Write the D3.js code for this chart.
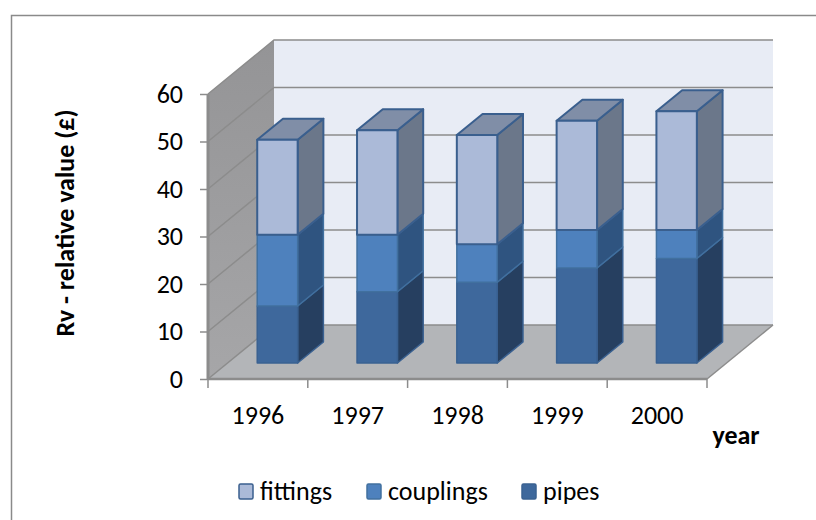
<!DOCTYPE html>
<html><head><meta charset="utf-8">
<script src="https://cdn.jsdelivr.net/npm/d3@7/dist/d3.min.js"></script>
<style>html,body{margin:0;padding:0;background:#fff}svg{display:block}text{font-family:Carlito,Calibri,Lato,"Open Sans",sans-serif;fill:#000}</style>
</head><body><svg id="c" width="816" height="520"></svg>
<script>
const years = ["1996","1997","1998","1999","2000"];
const seriesNames = ["pipes","couplings","fittings"];
const pipes = [12,15,17,20,22];
const couplings = [15,12,8,8,6];
const fittings = [20,22,23,23,25];
const yTicks = [0,10,20,30,40,50,60];
const legendOrder = ["fittings","couplings","pipes"];
const seriesColors = {
  pipes:{front:"#3e689c",side:"#263f60",top:"#2f4f78",stroke:"#3a6191"},
  couplings:{front:"#4e81bd",side:"#2f5480",top:"#3b6290",stroke:"#41709f"},
  fittings:{front:"#abbad8",side:"#6b778a",top:"#808ea7",stroke:"#3a5f8e"}
};
const svg = d3.select("#c");
const defs = svg.append("defs");
const grad = defs.append("linearGradient").attr("id","wall").attr("x1",0).attr("y1",0).attr("x2",0).attr("y2",1);
grad.append("stop").attr("offset","0%").attr("stop-color","#949496");
grad.append("stop").attr("offset","100%").attr("stop-color","#a6a6a8");
svg.append("path").attr("d","M11.5,520V15.5H816").attr("fill","none").attr("stroke","#8a8a8a").attr("stroke-width",1.5);

const x = d3.scaleBand().domain(years).range([208,707]).paddingInner(0.595).paddingOuter(0.2975);
const xEdge = d3.scaleLinear().domain([0,5]).range([208,707]);
const y = d3.scaleLinear().domain([0,60]).range([379,94]);
const dx = 66, dy = -54;
const P = (px,py,d)=>[px+dx*d,py+dy*d];
const poly = pts => pts.map(p=>p.join(",")).join(" ");

const g = svg.append("g");
g.append("polygon").attr("points",poly([P(208,y(0),1),P(707,y(0),1),P(707,y(60),1),P(208,y(60),1)])).attr("fill","#e8ecf5");
g.append("polygon").attr("points",poly([P(208,y(0),0),P(208,y(0),1),P(208,y(60),1),P(208,y(60),0)])).attr("fill","url(#wall)");
g.append("polygon").attr("points",poly([P(208,y(0),0),P(707,y(0),0),P(707,y(0),1),P(208,y(0),1)])).attr("fill","#b3b5b8");
yTicks.forEach(t=>{
  const a=P(208,y(t),0),b=P(208,y(t),1),c=P(707,y(t),1);
  g.append("polyline").attr("points",poly([a,b,c])).attr("fill","none").attr("stroke","#8c8c8c").attr("stroke-width",1.5);
});
const a0=P(707,y(0),0),a1=P(707,y(0),1);
g.append("line").attr("x1",a0[0]).attr("y1",a0[1]).attr("x2",a1[0]).attr("y2",a1[1]).attr("stroke","#8c8c8c").attr("stroke-width",1.5);
g.append("line").attr("x1",208).attr("y1",y(0)).attr("x2",208).attr("y2",y(60)).attr("stroke","#8c8c8c").attr("stroke-width",3);
g.append("line").attr("x1",208).attr("y1",y(0)).attr("x2",707).attr("y2",y(0)).attr("stroke","#8c8c8c").attr("stroke-width",2.5);

const yAxis = d3.axisLeft(y).tickValues(yTicks).tickSize(8).tickPadding(17).tickFormat(d3.format("d"));
const ya = svg.append("g").attr("transform","translate(208,0)").call(yAxis);
ya.select(".domain").remove();
ya.selectAll("line").attr("stroke","#8c8c8c").attr("stroke-width",1.5);
ya.selectAll("text").attr("font-size",26).style("font-family",'Carlito,Calibri,Lato,"Open Sans",sans-serif');
d3.range(6).forEach(i=>{
  svg.append("line").attr("x1",xEdge(i)).attr("x2",xEdge(i)).attr("y1",379).attr("y2",388).attr("stroke","#8c8c8c").attr("stroke-width",1.5);
});
years.forEach((yr,i)=>{
  svg.append("text").attr("x",(xEdge(i)+xEdge(i+1))/2).attr("y",424).attr("text-anchor","middle").attr("font-size",26).text(yr);
});

const frontD=0.296, backD=0.686;
const stack = d3.stack().keys(seriesNames)(years.map((yr,i)=>({pipes:pipes[i],couplings:couplings[i],fittings:fittings[i]})));
years.forEach((yr,i)=>{
  const l=x(yr), r=l+x.bandwidth();
  stack.forEach(s=>{
    const c=seriesColors[s.key], v0=s[i][0], v1=s[i][1];
    const sw=s.key==="fittings"?2:1.5;
    g.append("polygon").attr("points",poly([P(r,y(v0),frontD),P(r,y(v0),backD),P(r,y(v1),backD),P(r,y(v1),frontD)])).attr("fill",c.side).attr("stroke",c.stroke).attr("stroke-width",sw).attr("stroke-linejoin","round");
    if(s.key==="fittings") g.append("polygon").attr("points",poly([P(l,y(v1),frontD),P(r,y(v1),frontD),P(r,y(v1),backD),P(l,y(v1),backD)])).attr("fill",c.top).attr("stroke",c.stroke).attr("stroke-width",sw).attr("stroke-linejoin","round");
    g.append("polygon").attr("points",poly([P(l,y(v0),frontD),P(r,y(v0),frontD),P(r,y(v1),frontD),P(l,y(v1),frontD)])).attr("fill",c.front).attr("stroke",c.stroke).attr("stroke-width",sw).attr("stroke-linejoin","round");
  });
});

svg.append("text").attr("transform","translate(74,223) rotate(-90)").attr("text-anchor","middle").attr("font-size",26).attr("font-weight","bold").text("Rv - relative value (£)");
svg.append("text").attr("x",736).attr("y",444).attr("text-anchor","middle").attr("font-size",26).attr("font-weight","bold").text("year");

const legendX = {fittings:238,couplings:366,pipes:521};
legendOrder.forEach(n=>{
  const c=seriesColors[n];
  svg.append("rect").attr("x",legendX[n]+1).attr("y",484).attr("width",14).attr("height",15).attr("rx",1.5).attr("fill",c.front).attr("stroke",n==="fittings"?"#3a5f8e":c.stroke).attr("stroke-width",1.5);
  svg.append("text").attr("x",legendX[n]+22).attr("y",500).attr("font-size",26).text(n);
});
</script></body></html>
